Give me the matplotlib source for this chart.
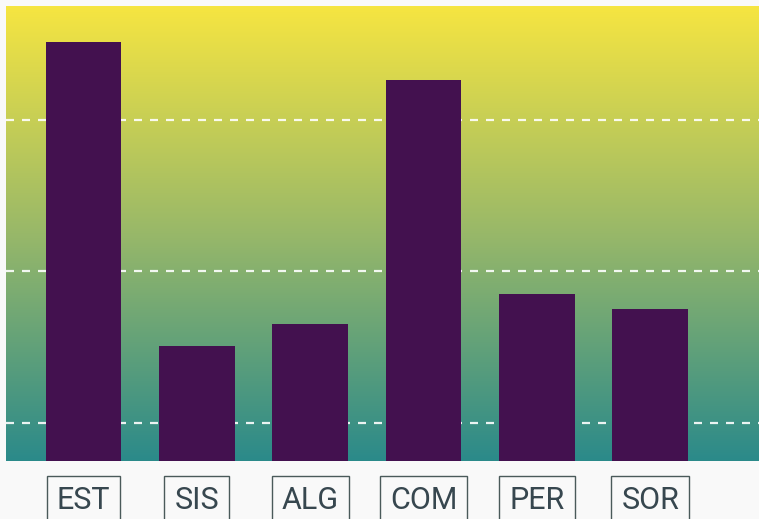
import numpy as np
import matplotlib
matplotlib.use("Agg")
import matplotlib.pyplot as plt
from matplotlib.colors import LinearSegmentedColormap
from matplotlib.transforms import blended_transform_factory

categories = ["EST", "SIS", "ALG", "COM", "PER", "SOR"]
values = [70.2, 30.1, 33.1, 65.2, 37.0, 35.1]
grid_values = [20, 40, 60]
y_min, y_max = 15, 75

W, H = 759, 519
fig = plt.figure(figsize=(W / 100, H / 100), dpi=100)
fig.patch.set_facecolor("#f9f9f9")
ax = fig.add_axes([6 / W, (H - 461) / H, 753 / W, 455 / H])

x = np.arange(len(categories))
xlim = (-0.684, 5.96)
ax.set_xlim(*xlim)
ax.set_ylim(y_min, y_max)

cmap = LinearSegmentedColormap.from_list("bg", ["#2b8a8a", "#98b869", "#f6e541"])
grad = np.linspace(0, 1, 256).reshape(-1, 1)
ax.imshow(grad, cmap=cmap, origin="lower", aspect="auto",
          extent=(xlim[0], xlim[1], y_min, y_max), zorder=0, interpolation="bilinear")

for g in grid_values:
    ax.axhline(g, color="white", alpha=0.9, lw=1.6, linestyle=(0, (3.6, 3.6)), zorder=1)

ax.bar(x, values, width=0.667, color="#43114f", zorder=2)

for s in ax.spines.values():
    s.set_visible(False)
ax.set_xticks([])
ax.set_yticks([])

trans = blended_transform_factory(ax.transData, ax.transAxes)
for xi, lab in zip(x, categories):
    ax.text(xi, -0.087, lab, transform=trans, ha="center", va="center",
            fontsize=22, family="Roboto", color="#37474f", clip_on=False,
            bbox=dict(boxstyle="square,pad=0.33", facecolor="#f9f9f9",
                      edgecolor="#4a5a5a", linewidth=1))

fig.savefig("out.png", dpi=100, facecolor=fig.get_facecolor())
